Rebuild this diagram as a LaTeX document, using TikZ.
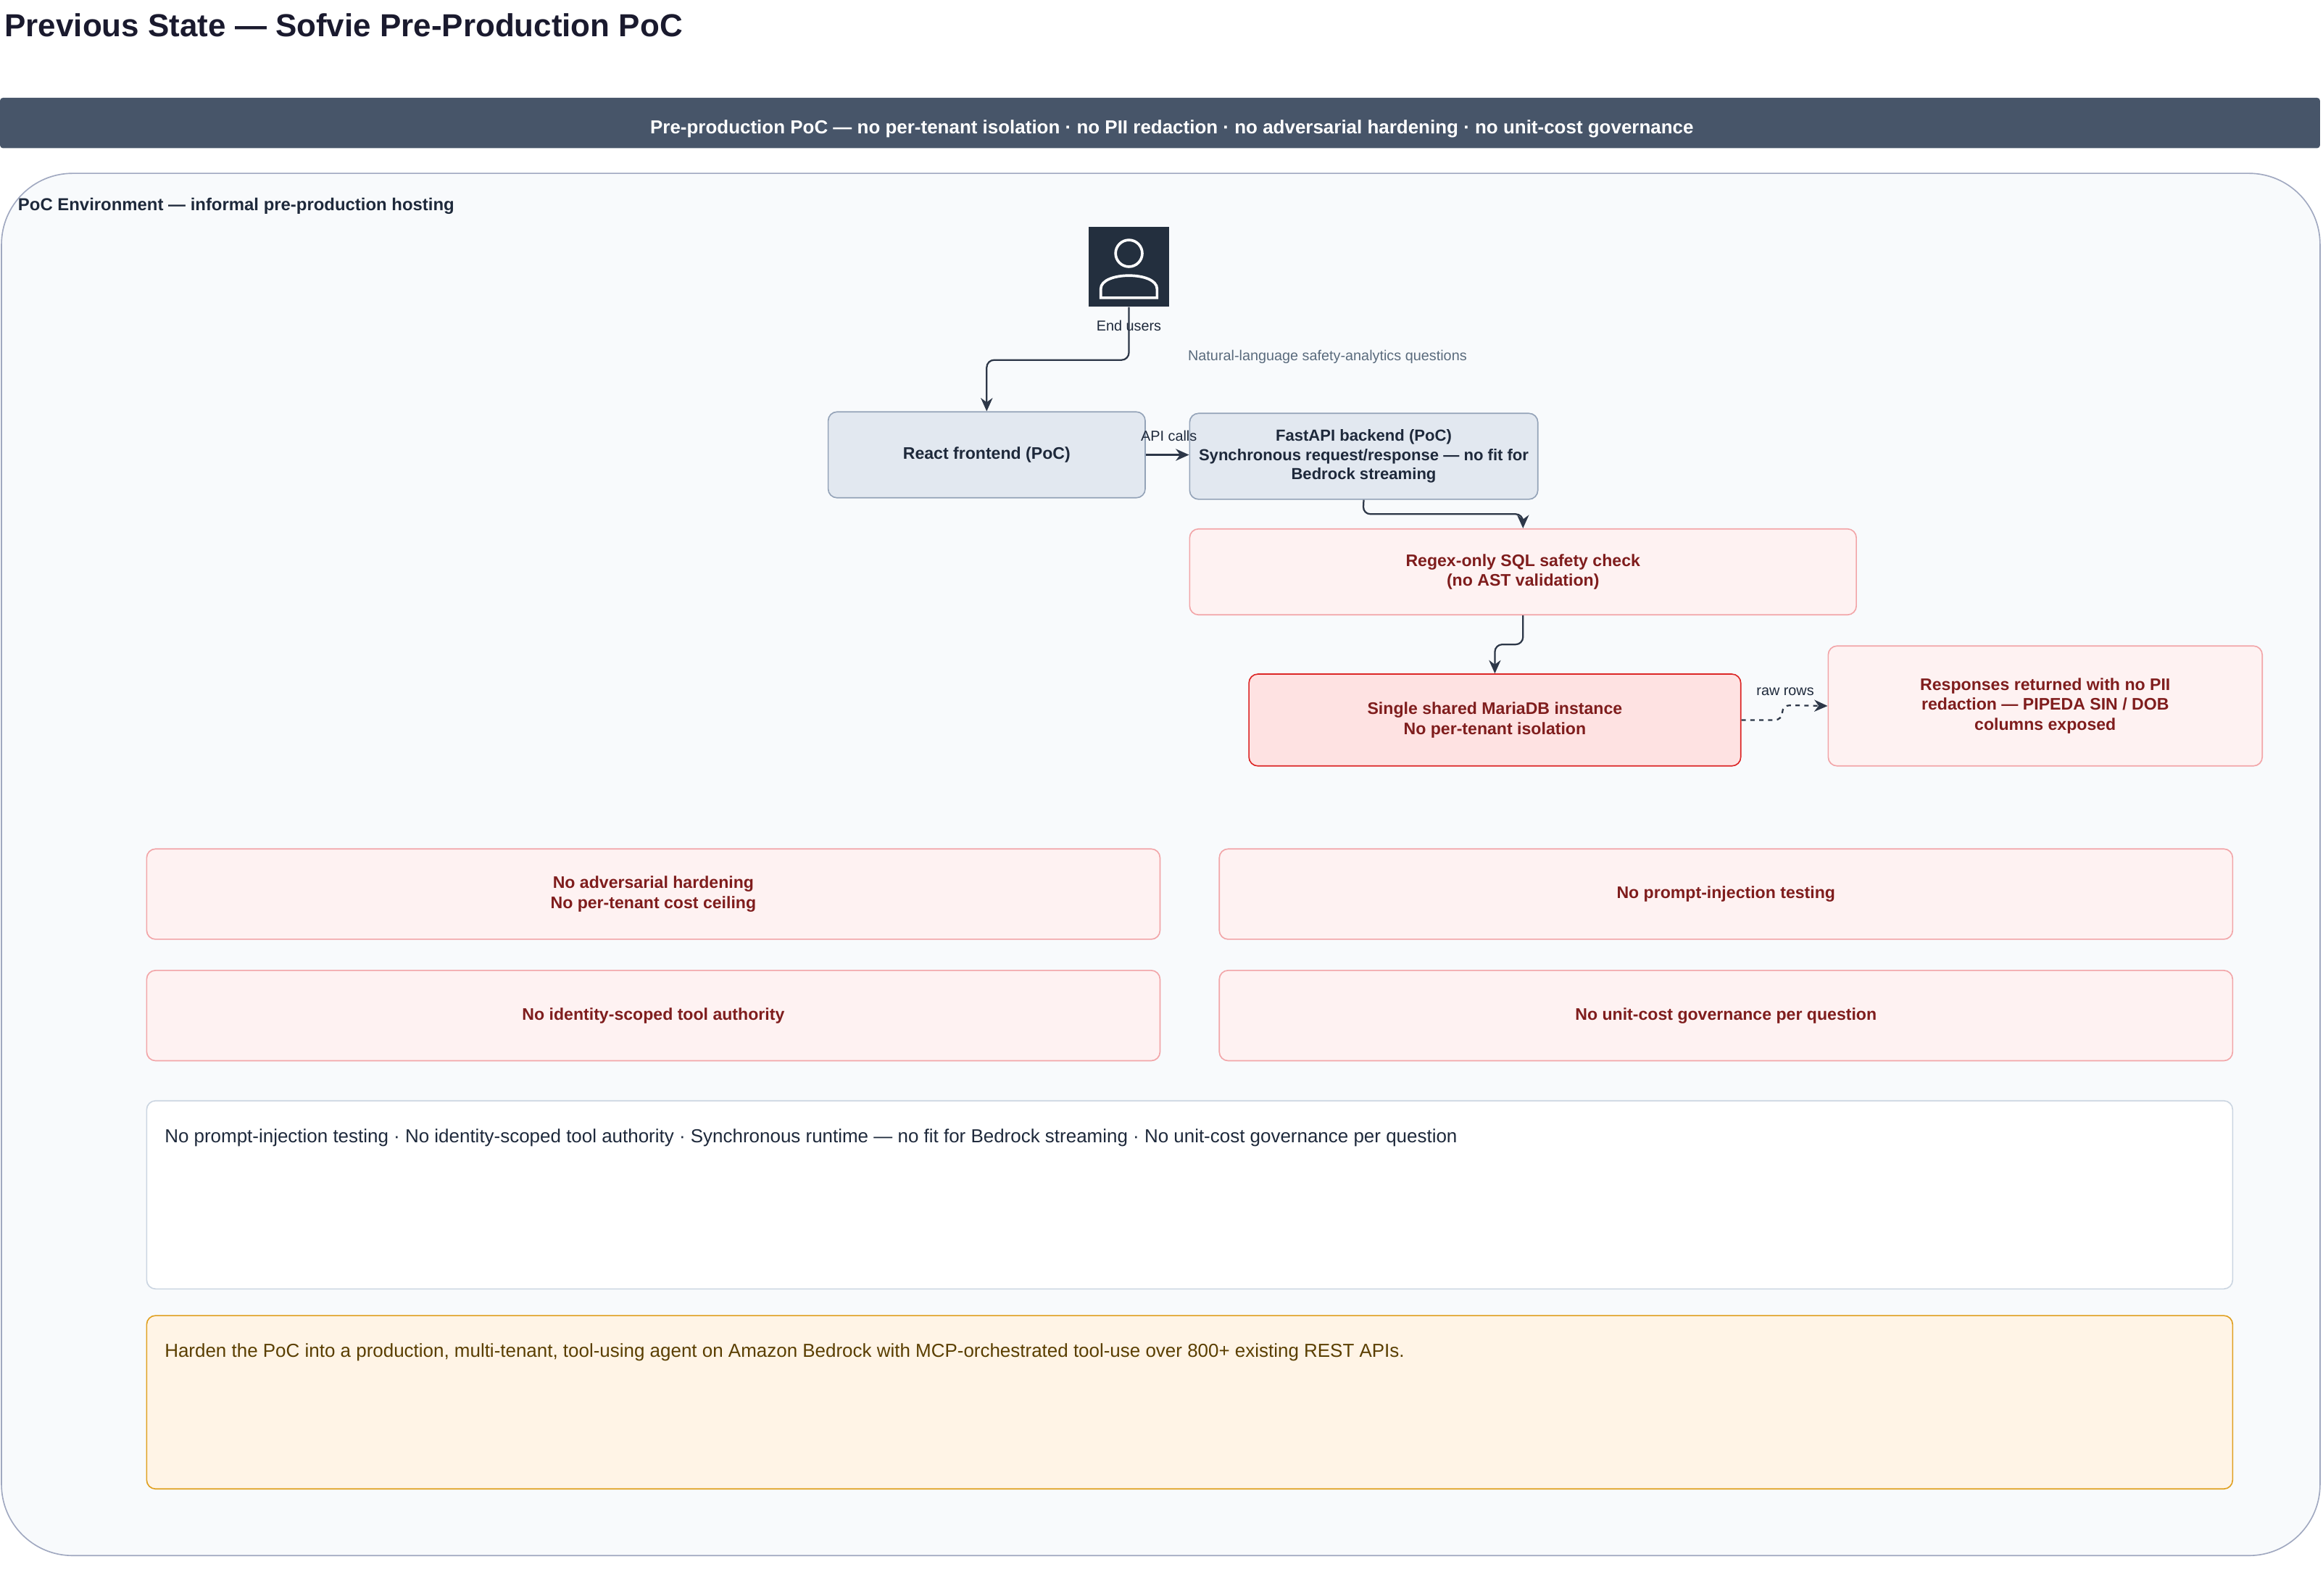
\documentclass[tikz,border=0pt]{standalone}
\usepackage{fontspec}
\setmainfont{Liberation Sans}
\usetikzlibrary{arrows.meta}
\definecolor{navy}{HTML}{1A1A2E}
\definecolor{slate}{HTML}{475569}
\definecolor{ink}{HTML}{1E293B}
\definecolor{redtxt}{HTML}{7F1D1D}
\definecolor{pinkfill}{HTML}{FEF2F2}
\definecolor{pinkline}{HTML}{F2A5A8}
\definecolor{dbfill}{HTML}{FEE2E2}
\definecolor{dbline}{HTML}{DC2626}
\definecolor{grayfill}{HTML}{E2E8F0}
\definecolor{grayline}{HTML}{94A3B8}
\definecolor{edge}{HTML}{2D3748}
\definecolor{envfill}{HTML}{F8FAFC}
\definecolor{envline}{HTML}{A0A8C0}
\definecolor{iconbg}{HTML}{232F3E}
\definecolor{lbl}{HTML}{5A6B7D}
\definecolor{notel}{HTML}{CBD5E1}
\definecolor{orfill}{HTML}{FFF4E6}
\definecolor{orline}{HTML}{E0A020}
\definecolor{ortxt}{HTML}{5A3E00}
\begin{document}
\begin{tikzpicture}[x=1pt,y=-1pt,
  box/.style={draw, rounded corners=6pt, line width=0.8pt, align=center, inner sep=0, font=\fontsize{11.3}{13.5}\selectfont\bfseries},
  gbox/.style={box, fill=grayfill, draw=grayline, text=ink},
  rbox/.style={box, fill=pinkfill, draw=pinkline, text=redtxt},
  conn/.style={draw=edge, line width=1.1pt, -{Stealth[length=9pt,width=8pt]}, rounded corners=5pt},
  small/.style={font=\fontsize{9.7}{11}\selectfont}]
\useasboundingbox (0,0) rectangle (1568,1077);
\node[anchor=west, text=navy, font=\fontsize{21.5}{24}\selectfont\bfseries, inner sep=0] (title) at (3,17) {Previous State — Sofvie Pre-Production PoC};
\node[fill=slate, minimum width=1566pt, minimum height=34pt, inner sep=0, rounded corners=2pt] (banner) at (783,83) {};
\node[text=white, font=\fontsize{12.7}{14}\selectfont\bfseries, inner sep=0] (bannertxt) at (791,87) {Pre-production PoC — no per-tenant isolation · no PII redaction · no adversarial hardening · no unit-cost governance};
\node[fill=envfill, draw=envline, line width=0.8pt, rounded corners=48pt, minimum width=1565pt, minimum height=933pt, inner sep=0] (env) at (783.5,583.5) {};
\node[anchor=west, text=ink, font=\fontsize{11.7}{13}\selectfont\bfseries, inner sep=0] (envlbl) at (12,139) {PoC Environment — informal pre-production hosting};
% user icon
\node[fill=iconbg, minimum width=54pt, minimum height=54pt, inner sep=0] (user) at (762,180) {};
\draw[white, line width=1.8pt] (762,171) circle (9pt);
\draw[white, line width=1.8pt] (743,201) -- (743,195) .. controls (743,183) and (781,183) .. (781,195) -- (781,201) -- cycle;
\node[small, text=ink] (userlbl) at (762,220) {End users};
% boxes
\node[gbox, minimum width=214pt, minimum height=58pt] (react) at (666,307) {React frontend (PoC)};
\node[gbox, minimum width=235pt, minimum height=58pt, font=\fontsize{10.8}{13}\selectfont\bfseries] (api) at (920.5,308) {FastAPI backend (PoC)\\Synchronous request/response — no fit for\\Bedrock streaming};
\node[rbox, minimum width=450pt, minimum height=58pt] (regex) at (1028,386) {Regex-only SQL safety check\\(no AST validation)};
\node[box, fill=dbfill, draw=dbline, text=redtxt, minimum width=332pt, minimum height=62pt] (db) at (1009,486) {Single shared MariaDB instance\\No per-tenant isolation};
\node[rbox, minimum width=293pt, minimum height=81pt] (resp) at (1380.5,476.5) {Responses returned with no PII\\redaction — PIPEDA SIN / DOB\\columns exposed};
\node[rbox, minimum width=684pt, minimum height=61pt] (g1) at (441,603.5) {No adversarial hardening\\No per-tenant cost ceiling};
\node[rbox, minimum width=684pt, minimum height=61pt] (g2) at (1165,603.5) {No prompt-injection testing};
\node[rbox, minimum width=684pt, minimum height=61pt] (g3) at (441,685.5) {No identity-scoped tool authority};
\node[rbox, minimum width=684pt, minimum height=61pt] (g4) at (1165,685.5) {No unit-cost governance per question};
\node[draw=notel, fill=white, line width=0.8pt, rounded corners=6pt, minimum width=1408pt, minimum height=127pt, inner sep=0] (note) at (803,806.5) {};
\node[anchor=west, text=ink, font=\fontsize{12.7}{14}\selectfont, inner sep=0] (notetxt) at (111,768) {No prompt-injection testing · No identity-scoped tool authority · Synchronous runtime — no fit for Bedrock streaming · No unit-cost governance per question};
\node[draw=orline, fill=orfill, line width=0.8pt, rounded corners=6pt, minimum width=1408pt, minimum height=117pt, inner sep=0] (goal) at (803,946.5) {};
\node[anchor=west, text=ortxt, font=\fontsize{12.7}{14}\selectfont, inner sep=0] (goaltxt) at (111,913) {Harden the PoC into a production, multi-tenant, tool-using agent on Amazon Bedrock with MCP-orchestrated tool-use over 800+ existing REST APIs.};
% connectors
\draw[conn] (user.south) -- (762,243) -- (666,243) -- (react.north);
\node[small, text=lbl] (q) at (896,241) {Natural-language safety-analytics questions};
\draw[conn] (react.east) -- (api.west |- react.east);
\node[small, text=ink, inner sep=1pt] (apil) at (789,294) {API calls};
\draw[conn] (api.south) -- (920,347) -- (1028,347) -- (regex.north);
\draw[conn] (regex.south) -- (1028,435) -- (1009,435) -- (db.north);
\draw[conn, dashed] (db.east) -- (1203,486) -- (1203,476) -- (resp.west);
\node[small, text=ink] (rr) at (1205,467) {raw rows};
\end{tikzpicture}
\end{document}
